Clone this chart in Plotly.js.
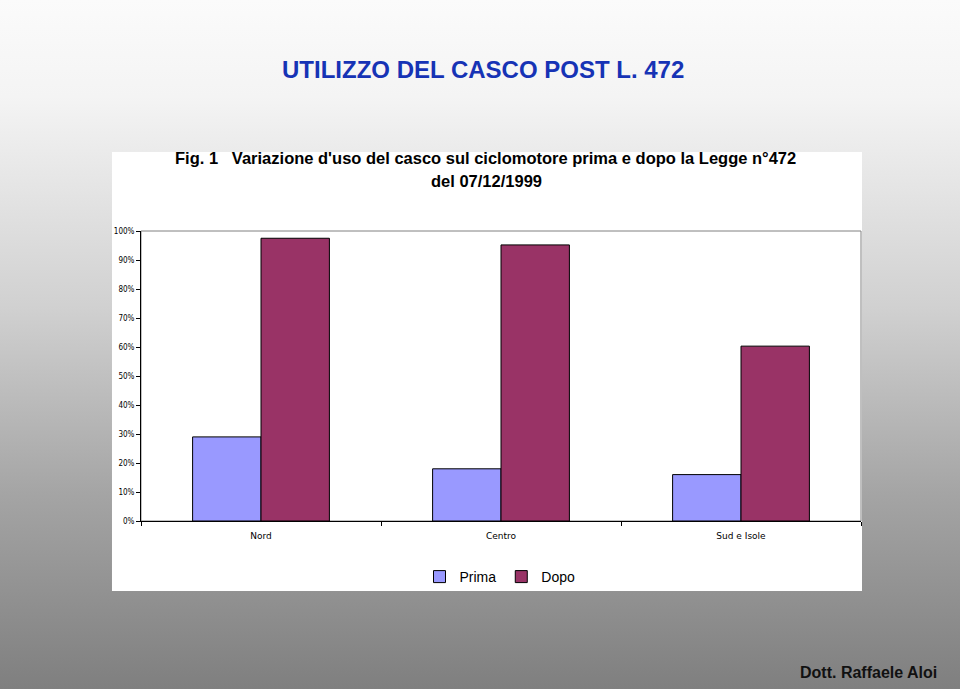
<!DOCTYPE html>
<html>
<head>
<meta charset="utf-8">
<script src="https://cdn.plot.ly/plotly-3.0.1.min.js"></script>
<style>
html,body{margin:0;padding:0;}
body{width:960px;height:689px;background:linear-gradient(to bottom,#fbfbfb 0%,#f4f4f4 14%,#d0d0d0 45%,#a4a4a4 72%,#7f7f7f 100%);}
#chart{width:960px;height:689px;}
</style>
</head>
<body>
<div id="chart"></div>
<script>
const categories = ["Nord", "Centro", "Sud e Isole"];
const prima = [0.29, 0.18, 0.16];
const dopo = [0.975, 0.952, 0.603];
const seriesNames = ["Prima", "Dopo"];
const yTickVals = [0,0.1,0.2,0.3,0.4,0.5,0.6,0.7,0.8,0.9,1.0];

const traces = [
  {type:"bar", name:seriesNames[0], x:categories, y:prima,
   marker:{color:"#9999FF", line:{color:"#000000", width:1}}},
  {type:"bar", name:seriesNames[1], x:categories, y:dopo,
   marker:{color:"#993366", line:{color:"#000000", width:1}}}
];

const layout = {
  width:960, height:689,
  paper_bgcolor:"rgba(0,0,0,0)",
  plot_bgcolor:"#ffffff",
  margin:{l:141, r:99, t:231, b:168},
  barmode:"group", bargap:0.43, bargroupgap:0,
  showlegend:true,
  legend:{orientation:"h", x:(500-141)/720, xanchor:"center", y:(521-577)/290, yanchor:"middle",
          font:{family:"Liberation Sans, Arial", size:14, color:"#000"},
          bgcolor:"rgba(0,0,0,0)", itemwidth:30, traceorder:"normal"},
  xaxis:{type:"category", showline:true, linecolor:"#000", linewidth:1,
         ticks:"outside", tickson:"boundaries", ticklen:4, tickcolor:"#000",
         ticklabelstandoff:6,
         tickfont:{family:"DejaVu Sans, Arial", size:9, color:"#000"},
         showgrid:false, zeroline:false, fixedrange:true},
  yaxis:{range:[0,1], tickvals:yTickVals, tickformat:".0%", showline:true,
         linecolor:"#000", linewidth:1, ticks:"outside", ticklen:4, tickcolor:"#000",
         tickfont:{family:"DejaVu Sans Condensed, Arial", size:8, color:"#000"},
         showgrid:false, zeroline:false, fixedrange:true},
  shapes:[
    {type:"rect", xref:"paper", yref:"paper", x0:-0.0403, x1:1.0014, y0:-0.2414, y1:1.2724,
     fillcolor:"#ffffff", line:{width:0}, layer:"below"},
    {type:"rect", xref:"paper", yref:"paper", x0:0, x1:1, y0:0, y1:1,
     fillcolor:"rgba(0,0,0,0)", line:{color:"#808080", width:1}, layer:"below"}
  ],
  annotations:[
    {text:"<b>UTILIZZO DEL CASCO POST L. 472</b>", xref:"paper", yref:"paper",
     x:(483-141)/720, y:(521-69)/290, xanchor:"center", yanchor:"middle", showarrow:false,
     font:{family:"Liberation Sans, Arial", size:24, color:"#1633b5"}},
    {text:"<b>Fig. 1   Variazione d'uso del casco sul ciclomotore prima e dopo la Legge n°472</b>",
     xref:"paper", yref:"paper", x:(485-141)/720, y:(521-158)/290, xanchor:"center", yanchor:"middle",
     showarrow:false, font:{family:"Liberation Sans, Arial", size:16.5, color:"#000"}},
    {text:"<b>del 07/12/1999</b>", xref:"paper", yref:"paper", x:(486-141)/720, y:(521-181)/290,
     xanchor:"center", yanchor:"middle", showarrow:false,
     font:{family:"Liberation Sans, Arial", size:16.5, color:"#000"}},
    {text:"<b>Dott. Raffaele Aloi</b>", xref:"paper", yref:"paper", x:(939-141)/720, y:(521-672)/290,
     xanchor:"right", yanchor:"middle", showarrow:false,
     font:{family:"Liberation Sans, Arial", size:16, color:"#111"}}
  ]
};

Plotly.newPlot("chart", traces, layout, {displayModeBar:false, staticPlot:true});
</script>
</body>
</html>
